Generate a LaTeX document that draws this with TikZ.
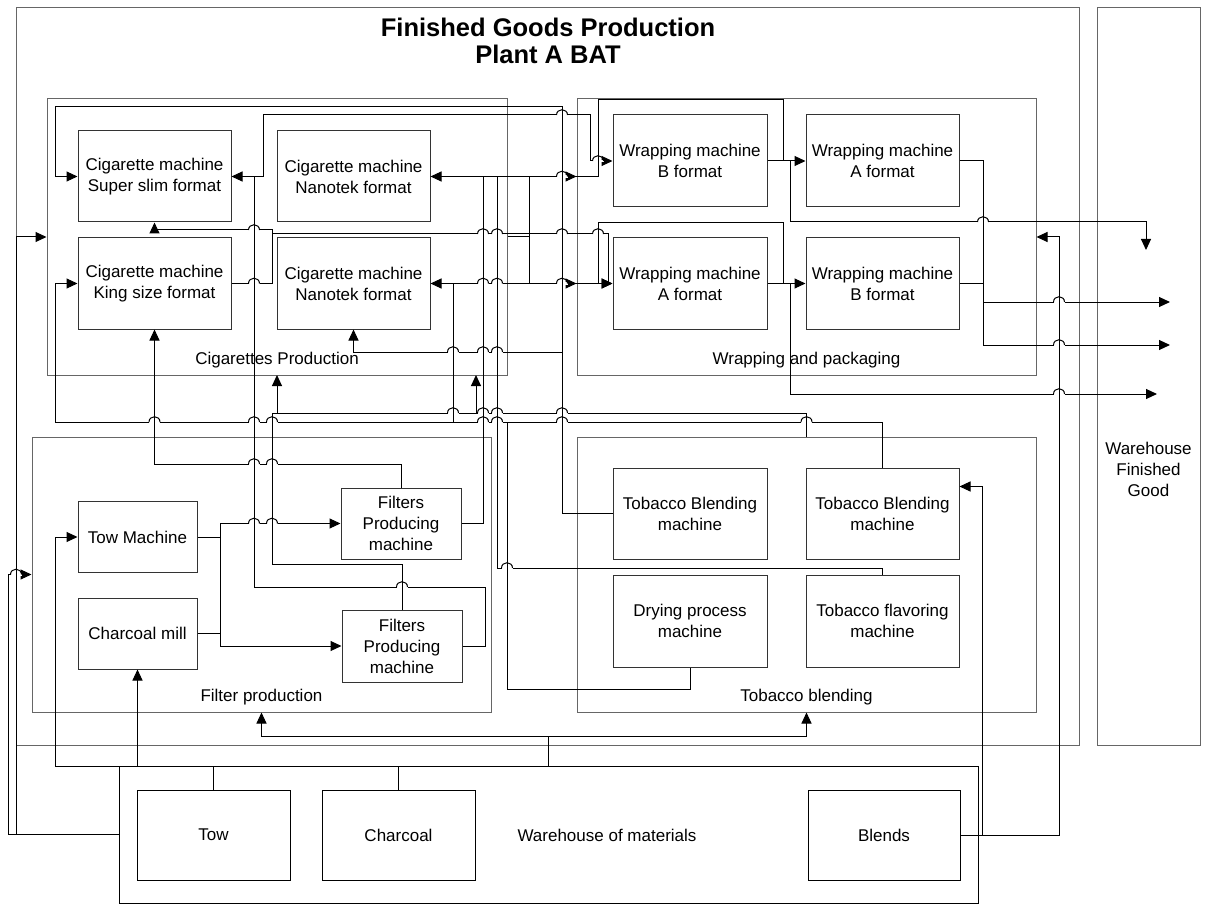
\documentclass[tikz,border=0pt]{standalone}
\usepackage{fontspec}
\setmainfont{Liberation Sans}
\usetikzlibrary{arrows.meta}

\tikzset{
  machine/.style={draw=black!80, minimum width=153pt, minimum height=91pt, align=center, font=\fontsize{17}{21}\selectfont},
  smallmachine/.style={machine, minimum width=119pt, minimum height=71pt},
  group/.style={draw=black!60, inner sep=0pt},
  grouplabel/.style={font=\fontsize{17}{21}\selectfont, inner sep=0pt, align=center},
  wire/.style={draw=black},
  arr/.style={draw=black, -{Triangle[length=11pt,width=10pt]}},
}
% small bump where a line jumps over another one
\newcommand{\wirehop}[2]{%
  \fill[white] (#1-5.5,#2-1.4) rectangle (#1+5.5,#2+1.4);
  \draw (#1,#2-2) -- (#1,#2+2);
  \draw (#1-5.5,#2) .. controls (#1-5.5,#2-7) and (#1+5.5,#2-7) .. (#1+5.5,#2);
}

\begin{document}
\begin{tikzpicture}[x=1pt, y=-1pt, line width=1pt]
    \useasboundingbox (0,0) rectangle (1210,904);

    % departments
    \node[group, minimum width=1063pt, minimum height=737pt] (plant) at (547.5,376.5) {};
    \node[group, minimum width=103pt, minimum height=737pt] (whfg) at (1148.5,376.5) {};
    \node[group, minimum width=460pt, minimum height=276pt] (cig) at (277,237) {};
    \node[group, minimum width=459pt, minimum height=276pt] (wrap) at (806.5,237) {};
    \node[group, minimum width=459pt, minimum height=275pt] (filt) at (261.5,574.5) {};
    \node[group, minimum width=459pt, minimum height=275pt] (tob) at (806.5,574.5) {};
    \node[group, draw=black, minimum width=859pt, minimum height=137pt] (whmat) at (548.5,834.5) {};

    \node[font=\fontsize{25.5}{27}\selectfont\bfseries, align=center] (title) at (548,41) {Finished Goods Production\\Plant A BAT};
    \node[grouplabel] (whfglabel) at (1148.5,469) {Warehouse\\Finished\\Good};
    \node[grouplabel] (ciglabel) at (277,360) {Cigarettes Production};
    \node[grouplabel] (wraplabel) at (806.5,360) {Wrapping and packaging};
    \node[grouplabel] (filtlabel) at (261.5,697) {Filter production};
    \node[grouplabel] (toblabel) at (806.5,697) {Tobacco blending};
    \node[grouplabel] (whmatlabel) at (607,835) {Warehouse of materials};

    % machines
    \node[machine] (ss) at (154.5,176.5) {Cigarette machine\\Super slim format};
    \node[machine] (ks) at (154.5,283.5) {Cigarette machine\\King size format};
    \node[machine] (nt1) at (353.5,176.5) {Cigarette machine\\Nanotek format};
    \node[machine] (nt2) at (353.5,283.5) {Cigarette machine\\Nanotek format};
    \node[machine, minimum width=154pt, minimum height=92pt] (wb1) at (690,161) {Wrapping machine\\B format};
    \node[machine, minimum height=92pt] (wa1) at (882.5,161) {Wrapping machine\\A format};
    \node[machine, minimum width=154pt] (wa2) at (690,283.5) {Wrapping machine\\A format};
    \node[machine] (wb2) at (882.5,283.5) {Wrapping machine\\B format};
    \node[smallmachine] (towm) at (137.5,537) {Tow Machine};
    \node[smallmachine] (charm) at (137.5,633.5) {Charcoal mill};
    \node[smallmachine, minimum width=120pt] (fp1) at (401,523.5) {Filters\\Producing\\machine};
    \node[smallmachine, minimum width=120pt, minimum height=72pt] (fp2) at (402,646) {Filters\\Producing\\machine};
    \node[machine, minimum width=154pt] (tbm1) at (690,513.5) {Tobacco Blending\\machine};
    \node[machine] (tbm2) at (882.5,513.5) {Tobacco Blending\\machine};
    \node[machine, minimum width=154pt, minimum height=92pt] (dry) at (690,621) {Drying process\\machine};
    \node[machine, minimum height=92pt] (flav) at (882.5,621) {Tobacco flavoring\\machine};
    \node[machine, draw=black, minimum height=90pt] (tow) at (213.5,835) {Tow};
    \node[machine, draw=black, minimum height=90pt] (charcoal) at (398.5,835) {Charcoal};
    \node[machine, draw=black, minimum width=152pt, minimum height=90pt] (blends) at (884,835) {Blends};

    % materials into the plant
    \draw[arr] (whmat.west) -| (16,237) -- (cig.west);
    \draw[arr] (16,834.5) -| (8,574.5) -- (filt.west);
    \draw[arr] (548,766) -| (55,537) -- (towm.west);
    \draw[wire] (tow.north) -- (213.5,766);
    \draw[wire] (charcoal.north) -- (398.5,766);
    \draw[arr] (137.5,766) -- (charm.south);
    \draw[arr] (548,766) -- (548,736) -| (filt.south);
    \draw[arr] (548,736) -| (tob.south);
    \draw[arr] (blends.east) -| (1059,237) -- (wrap.east);
    \draw[arr] (982,835) |- ([yshift=27pt]tbm2.east);

    % filters
    \draw[arr] (towm.east) -| (220,523.5) -- (fp1.west);
    \draw[arr] (charm.east) -| (220,646) -- (fp2.west);
    \draw[wire] (220,523.5) -- (220,646);
    \draw[arr] (fp1.north) |- (154.5,464) -- (ks.south);
    \draw[arr] (fp1.east) -| (483,176.5) -- (nt1.east);
    \draw[arr] (fp2.east) -| (485,587) -| (254,176.5) -- (ss.east);
    \draw[arr] (254,176.5) -| (263,115) -| (590,161) -- (wb1.west);
    \draw[wire] (fp2.north) |- (272,564) -- (272,413) -- (277,413);

    % tobacco
    \draw[arr] (tbm1.west) -| (562,107) -| (55,176.5) -- (ss.west);
    \draw[arr] (562,352) -| (nt2.south);
    \draw[arr] (tbm2.north) |- (453,422) |- (nt2.east);
    \draw[arr] (453,422) -| (55,283.5) -- (ks.west);
    \draw[wire] (flav.north) |- (497,568) -- (497,176.5);
    \draw[wire] (dry.south) |- (507,689) -- (507,422);
    \draw[arr] (tob.north) |- (277,413) -- (277,375);
    \draw[arr] (476,413) -- (476,375);

    % cigarettes to wrapping
    \draw[wire] (483,176.5) -- (598,176.5) |- (783,100) -- (783,161);
    \draw[arr] ([xshift=-11pt]wrap.west |- nt1.east) -- (wrap.west |- nt1.east);
    \draw[wire] (529,176.5) -- (529,283.5);
    \draw[wire] (cig.east) -- (529,237);
    \draw[wire] (453,283.5) -- (598,283.5);
    \draw[arr] ([xshift=-11pt]wrap.west |- nt2.east) -- (wrap.west |- nt2.east);
    \draw[arr] (598,283.5) -- (wa2.west);
    \draw[wire] (598,283.5) |- (783,223) -- (783,283.5);
    \draw[arr] (ks.east) -| (272,230) -| (ss.south);
    \draw[arr] (272,234) -| (608,283.5) -- (wa2.west);

    % wrapping to finished goods
    \draw[arr] (wb1.east) -- (wa1.west);
    \draw[arr] (790,161) |- (1146,222) -- (1146,250);
    \draw[arr] (wa2.east) -- (wb2.west);
    \draw[arr] (790,283.5) |- (1157,394);
    \draw[arr] (wa1.east) -| (983,345) -- (1170,345);
    \draw[wire] (wb2.east) -- (983,283.5);
    \draw[arr] (983,302) -- (1170,302);

    % line jumps
    \wirehop{562}{115} \wirehop{562}{176.5} \wirehop{598}{161} \wirehop{983}{222}
    \wirehop{254}{230} \wirehop{254}{283.5}
    \wirehop{483}{283.5} \wirehop{497}{283.5} \wirehop{562}{283.5}
    \wirehop{483}{234} \wirehop{497}{234} \wirehop{562}{234} \wirehop{598}{234}
    \wirehop{1059}{302} \wirehop{1059}{345} \wirehop{1059}{394}
    \wirehop{453}{352} \wirehop{483}{352} \wirehop{497}{352}
    \wirehop{453}{413} \wirehop{483}{413} \wirehop{497}{413} \wirehop{562}{413}
    \wirehop{154.5}{422} \wirehop{254}{422} \wirehop{272}{422} \wirehop{483}{422}
    \wirehop{497}{422} \wirehop{562}{422} \wirehop{806.5}{422}
    \wirehop{254}{464} \wirehop{272}{464}
    \wirehop{254}{523.5} \wirehop{272}{523.5}
    \wirehop{507}{568} \wirehop{16}{574.5} \wirehop{402}{587}
\end{tikzpicture}
\end{document}
